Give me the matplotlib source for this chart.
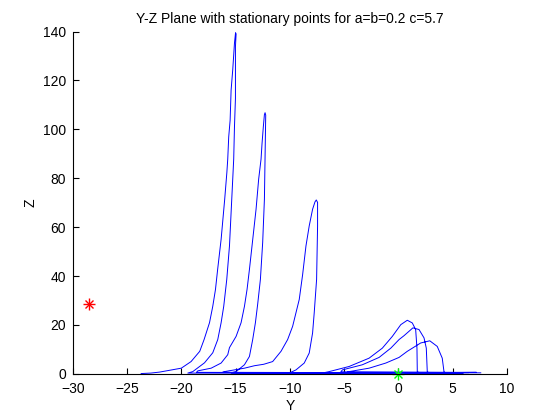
import numpy as np
import matplotlib
matplotlib.use("Agg")
import matplotlib.pyplot as plt

# ---------------------------------------------------
# Trajectory pieces (Y, Z)
# ---------------------------------------------------

tail_y = [-23.7, -22.8]
tail_z = [0.1, 0.3]

spike1_up_y = [-22.0, -20.9, -20.0, -19.1, -18.3, -17.9, -17.4, -17.1, -16.85,
               -16.65, -16.33, -16.0, -15.8, -15.72, -15.63, -15.5, -15.41,
               -15.26, -15.1, -15.0]
spike1_up_z = [0.7, 1.6, 2.3, 5.0, 9.2, 14.0, 20.9, 27.6, 34.5,
               42.7, 55.0, 71.4, 82.4, 87.8, 96.9, 103.7, 116.0,
               124.3, 135.2, 139.5]
spike1_dn_y = [-14.95, -15.01, -15.01, -15.1, -15.17, -15.35, -15.56, -15.81,
               -16.02, -16.09, -16.33, -16.64, -17.1, -17.86, -18.94]
spike1_dn_z = [139.0, 133.8, 112.6, 101.0, 87.8, 71.4, 52.3, 38.6,
               30.4, 27.6, 20.9, 14.0, 8.6, 4.5, 0.9]

spike2_up_y = [-18.48, -17.25, -16.33, -15.72, -15.56, -14.95, -14.49, -14.18,
               -13.94, -13.72, -13.42, -13.11, -12.87, -12.65, -12.56, -12.44,
               -12.34, -12.28]
spike2_up_z = [1.2, 2.3, 4.4, 7.8, 10.7, 15.3, 20.9, 27.6,
               34.5, 42.7, 55.0, 67.3, 79.6, 87.8, 94.1, 101.0,
               106.0, 106.8]
spike2_dn_y = [-12.22, -12.25, -12.34, -12.5, -12.71, -12.96, -13.17, -13.42,
               -13.72, -14.18, -14.95]
spike2_dn_z = [105.8, 96.9, 71.4, 53.7, 38.6, 28.5, 20.9, 14.0,
               7.1, 3.7, 0.9]

spike3_up_y = [-16.02, -15.1, -14.18, -13.26, -12.4, -11.58, -10.81, -10.2,
               -9.74, -9.43, -9.13, -8.82, -8.51, -8.21, -7.9, -7.68, -7.56]
spike3_up_z = [0.9, 1.6, 2.3, 3.3, 3.9, 5.0, 9.2, 14.0,
               19.4, 24.9, 30.4, 40.5, 52.3, 60.5, 67.3, 70.3, 71.1]
spike3_dn_y = [-7.44, -7.44, -7.5, -7.53, -7.75, -7.9, -8.21, -8.67, -9.43, -10.05]
spike3_dn_z = [70.1, 60.5, 46.8, 38.6, 24.9, 16.7, 8.5, 4.4, 1.6, 0.3]

loop1_y = [-6.37, -4.53, -2.69, -1.47, -0.55, 0.23, 0.83, 1.29, 1.6, 1.72, 1.75]
loop1_z = [0.9, 3.0, 6.4, 10.5, 15.3, 20.1, 21.9, 20.8, 18.1, 10.5, 0.9]

loop2_y = [-5.15, -3.31, -1.77, -0.69, 0.07, 0.53, 1.35, 1.91, 2.37, 2.58, 2.67]
loop2_z = [1.6, 3.7, 6.7, 10.5, 14.0, 15.6, 18.8, 18.1, 14.7, 10.5, 0.9]

loop3_y = [-4.53, -2.69, -1.15, 0.07, 0.83, 2.06, 2.9, 3.59, 4.05, 4.21]
loop3_z = [0.9, 2.3, 4.4, 6.7, 9.2, 12.6, 13.5, 11.2, 6.4, 0.9]

floor_a_y = [-19.4, -8.0, 3.5, -18.6]
floor_a_z = [0.3, 0.2, 0.3, 0.6]
floor_b_y = [-15.4, -6.0, 5.0, -16.2]
floor_b_z = [0.4, 0.2, 0.4, 0.6]
floor_c_y = [-11.0, -2.0, 6.0, -6.8]
floor_c_z = [0.2, 0.3, 0.4, 0.5]
floor_d_y = [1.9, 6.5, -5.3]
floor_d_z = [0.4, 0.5, 0.8]
floor_e_y = [2.8, 7.2, -4.7]
floor_e_z = [0.4, 0.6, 0.6]
floor_f_y = [4.3, 7.6]
floor_f_z = [0.4, 0.4]

# stationary points
stat_y = [-28.47, -0.035]
stat_z = [28.47, 0.035]
stat_colors = ["red", (0, 1, 0)]

path_y = (tail_y + spike1_up_y + spike1_dn_y + floor_a_y + spike2_up_y + spike2_dn_y
          + floor_b_y + spike3_up_y + spike3_dn_y + floor_c_y + loop1_y + floor_d_y
          + loop2_y + floor_e_y + loop3_y + floor_f_y)
path_z = (tail_z + spike1_up_z + spike1_dn_z + floor_a_z + spike2_up_z + spike2_dn_z
          + floor_b_z + spike3_up_z + spike3_dn_z + floor_c_z + loop1_z + floor_d_z
          + loop2_z + floor_e_z + loop3_z + floor_f_z)

plt.rcParams["font.family"] = ["Liberation Sans", "DejaVu Sans"]
plt.rcParams["font.size"] = 10

fig = plt.figure(figsize=(5.6, 4.2), dpi=100)
ax = fig.add_axes([0.13, 0.11, 0.775, 0.815])

ax.plot(path_y, path_z, color="blue", linewidth=0.7)

# matlab-ish '*' marker: plus and cross on top of each other
for sy, sz, c in zip(stat_y, stat_z, stat_colors):
    ax.plot(sy, sz, marker="+", color=c, markersize=8, markeredgewidth=1.0,
            linestyle="none", clip_on=False)
    ax.plot(sy, sz, marker="x", color=c, markersize=5.5, markeredgewidth=1.0,
            linestyle="none", clip_on=False)

ax.set_xlim(-30, 10)
ax.set_ylim(0, 140)
ax.set_xticks(np.arange(-30, 11, 5))
ax.set_yticks(np.arange(0, 141, 20))

ax.spines["top"].set_visible(False)
ax.spines["right"].set_visible(False)
ax.tick_params(direction="in", length=4, width=0.8, labelsize=10)
ax.tick_params(axis="x", pad=6)
ax.tick_params(axis="y", pad=5)

ax.set_title("Y-Z Plane with stationary points for a=b=0.2 c=5.7", fontsize=10)
ax.set_xlabel("Y", fontsize=10, labelpad=2)
ax.set_ylabel("Z", fontsize=10)

fig.savefig("out.png", dpi=100)
